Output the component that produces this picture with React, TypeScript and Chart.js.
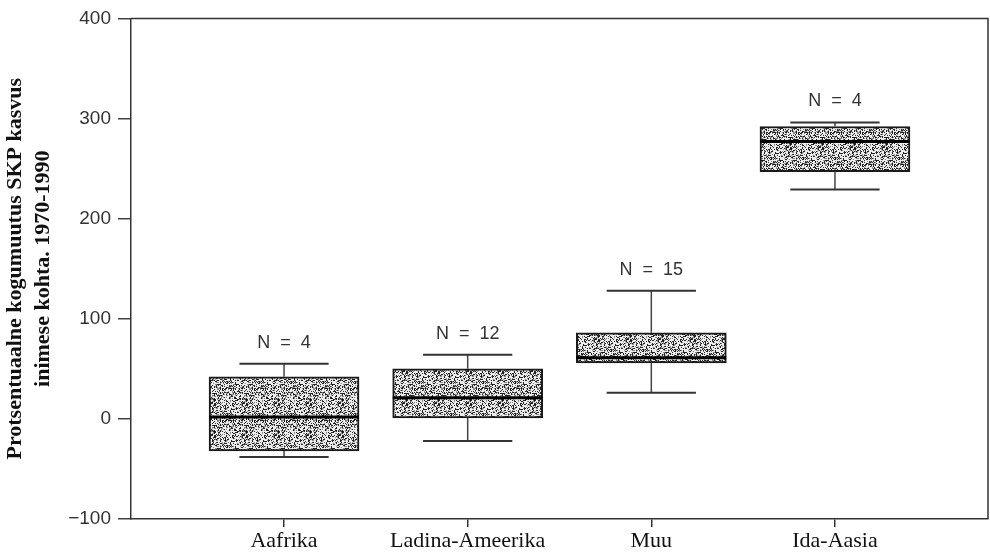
import React, { useEffect, useRef } from 'react';
import { Chart, registerables } from 'chart.js';

Chart.register(...registerables);

const categories = ['Aafrika', 'Ladina-Ameerika', 'Muu', 'Ida-Aasia'];
const whiskerLow = [-38, -22, 26, 229];
const q1 = [-32, 1, 56, 247];
const median = [2, 21, 61, 277];
const q3 = [42, 50, 86, 292];
const whiskerHigh = [55, 64, 128, 296];
const counts = [4, 12, 15, 4];
const yTicks = [-100, 0, 100, 200, 300, 400];
const yTitle = ['Protsentuaalne kogumuutus SKP kasvus', 'inimese kohta. 1970-1990'];

const BOX_HALF = 0.408;
const CAP_HALF = 0.243;

function makePattern(): CanvasPattern | string {
  const c = document.createElement('canvas');
  const s = 32;
  c.width = s;
  c.height = s;
  const g = c.getContext('2d');
  if (!g) return '#a0a0a0';
  g.fillStyle = '#ececec';
  g.fillRect(0, 0, s, s);
  for (let i = 0; i < s; i++) {
    for (let j = 0; j < s; j++) {
      const h = ((i * 73856093) ^ (j * 19349663) ^ (i * j * 83492791)) >>> 0;
      const v = h % 100;
      if (v < 29) {
        g.fillStyle = '#222';
        g.fillRect(i, j, 1, 1);
      } else if (v < 43) {
        g.fillStyle = '#888';
        g.fillRect(i, j, 1, 1);
      }
    }
  }
  const p = g.createPattern(c, 'repeat');
  return p || '#a0a0a0';
}

export default function App() {
  const ref = useRef<HTMLCanvasElement | null>(null);

  useEffect(() => {
    if (!ref.current) return;
    const pattern = makePattern();

    const boxData = categories.map((_, i) => ({ x: i + 1, y: [q1[i], q3[i]] }));
    const stemData: any[] = [];
    const capData: any[] = [];
    const medData: any[] = [];
    categories.forEach((_, i) => {
      const x = i + 1;
      stemData.push({ x, y: q3[i] }, { x, y: whiskerHigh[i] }, { x, y: null });
      stemData.push({ x, y: q1[i] }, { x, y: whiskerLow[i] }, { x, y: null });
      capData.push({ x: x - CAP_HALF, y: whiskerHigh[i] }, { x: x + CAP_HALF, y: whiskerHigh[i] }, { x, y: null });
      capData.push({ x: x - CAP_HALF, y: whiskerLow[i] }, { x: x + CAP_HALF, y: whiskerLow[i] }, { x, y: null });
      medData.push({ x: x - BOX_HALF, y: median[i] }, { x: x + BOX_HALF, y: median[i] }, { x, y: null });
    });

    const framePlugin = {
      id: 'frame',
      afterDraw(chart: any) {
        const { ctx, chartArea } = chart;
        ctx.save();
        ctx.strokeStyle = '#333';
        ctx.lineWidth = 1.5;
        ctx.beginPath();
        ctx.moveTo(chartArea.left, chartArea.top);
        ctx.lineTo(chartArea.right, chartArea.top);
        ctx.lineTo(chartArea.right, chartArea.bottom);
        ctx.stroke();
        ctx.restore();
      },
    };

    const nPlugin = {
      id: 'nlabels',
      afterDatasetsDraw(chart: any) {
        const { ctx, scales } = chart;
        ctx.save();
        ctx.fillStyle = '#333';
        ctx.font = '18px "Liberation Sans", Arial, sans-serif';
        ctx.textAlign = 'center';
        ctx.textBaseline = 'middle';
        categories.forEach((_, i) => {
          const x = scales.x.getPixelForValue(i + 1);
          const y = scales.y.getPixelForValue(whiskerHigh[i]) - 21;
          ctx.fillText('N  =  ' + counts[i], x, y);
        });
        ctx.restore();
      },
    };

    const chart = new Chart(ref.current, {
      type: 'bar',
      data: {
        datasets: [
          {
            type: 'line',
            data: medData,
            borderColor: '#000',
            borderWidth: 3,
            pointRadius: 0,
            spanGaps: false,
            order: 1,
          } as any,
          {
            type: 'line',
            data: capData,
            borderColor: '#333',
            borderWidth: 2,
            pointRadius: 0,
            spanGaps: false,
            order: 2,
          } as any,
          {
            type: 'line',
            data: stemData,
            borderColor: '#444',
            borderWidth: 1.5,
            pointRadius: 0,
            spanGaps: false,
            order: 3,
          } as any,
          {
            type: 'bar',
            data: boxData as any,
            backgroundColor: pattern as any,
            borderColor: '#1a1a1a',
            borderWidth: 2,
            borderSkipped: false,
            barThickness: 150,
            order: 4,
          } as any,
        ],
      },
      options: {
        animation: false,
        responsive: true,
        maintainAspectRatio: false,
        layout: { padding: { top: 15, right: 2, left: 0, bottom: 0 } },
        plugins: {
          legend: { display: false },
          tooltip: { enabled: false },
        },
        scales: {
          x: {
            type: 'linear',
            offset: false,
            min: 1 / 6,
            max: 4 + 5 / 6,
            afterBuildTicks: (scale: any) => {
              scale.ticks = categories.map((_, i) => ({ value: i + 1 }));
            },
            afterFit: (scale: any) => {
              scale.height = 33;
            },
            grid: {
              offset: false,
              drawOnChartArea: false,
              drawTicks: true,
              tickLength: 8,
              color: '#333',
              lineWidth: 1.5,
            },
            border: { display: true, color: '#333', width: 1.5 },
            ticks: {
              autoSkip: false,
              maxRotation: 0,
              padding: 1,
              color: '#111',
              font: { family: '"Liberation Serif", "Times New Roman", serif', size: 22 },
              callback: (v: any) => categories[Math.round(Number(v)) - 1] ?? '',
            },
          },
          y: {
            type: 'linear',
            min: -100,
            max: 400,
            afterBuildTicks: (scale: any) => {
              scale.ticks = yTicks.map((v) => ({ value: v }));
            },
            afterFit: (scale: any) => {
              scale.width = 131;
            },
            grid: {
              drawOnChartArea: false,
              drawTicks: true,
              tickLength: 13,
              color: '#444',
              lineWidth: 1.5,
            },
            border: { display: true, color: '#333', width: 1.5 },
            ticks: {
              padding: 7,
              color: '#333',
              font: { family: '"Liberation Sans", Arial, sans-serif', size: 19 },
              callback: (v: any) => (Number(v) < 0 ? '\u2212' + Math.abs(Number(v)) : String(v)),
            },
            title: {
              display: true,
              text: yTitle,
              color: '#111',
              padding: { top: 2, bottom: 0 },
              font: {
                family: '"Liberation Serif", "Times New Roman", serif',
                size: 22,
                weight: 'bold',
                lineHeight: 1.25,
              },
            },
          },
        },
      },
      plugins: [framePlugin, nPlugin],
    });

    return () => chart.destroy();
  }, []);

  return (
    <div style={{ position: 'absolute', left: 0, top: 0, width: 990, height: 552, background: '#fff' }}>
      <canvas ref={ref} />
    </div>
  );
}
